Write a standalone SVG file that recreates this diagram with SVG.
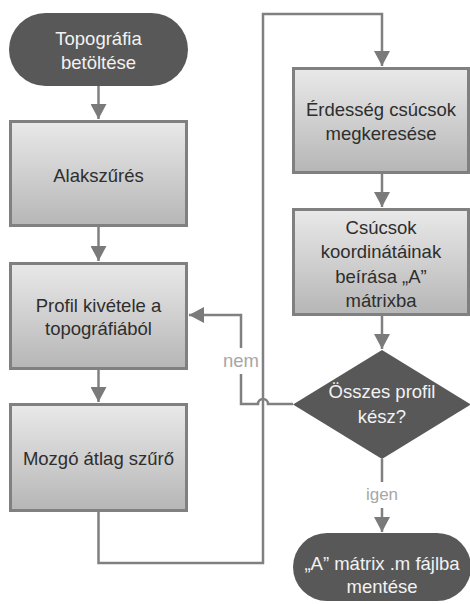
<svg xmlns="http://www.w3.org/2000/svg" width="470" height="604" viewBox="0 0 470 604">
<style>
text{font-family:"Liberation Sans",Arial,sans-serif;font-size:18.5px;text-anchor:middle}
.dk{fill:#585858}
.lt{fill:#f2f2f2}
.tb{fill:#2e2e2e}
.box{fill:url(#g);stroke:#808080;stroke-width:3}
.ln{fill:none;stroke:#808080;stroke-width:2.5}
.lbl{fill:#a6a6a6}
</style>
<defs>
<linearGradient id="g" x1="0" y1="0" x2="0" y2="1">
<stop offset="0" stop-color="#e9e9e9"/>
<stop offset="1" stop-color="#b6b6b6"/>
</linearGradient>
<marker id="ah" viewBox="0 0 15 16" refX="15" refY="8" markerWidth="15" markerHeight="16" markerUnits="userSpaceOnUse" orient="auto">
<path d="M0,0 L15,8 L0,16 z" fill="#7a7a7a"/>
</marker>
</defs>
<g id="connectors">
<path class="ln" d="M98.5,86 V119" marker-end="url(#ah)"/>
<path class="ln" d="M98.5,227 V261" marker-end="url(#ah)"/>
<path class="ln" d="M98.5,370 V402" marker-end="url(#ah)"/>
<path class="ln" d="M98.5,512 V563 H263 V14 H382 V66" marker-end="url(#ah)"/>
<path class="ln" d="M382,174 V207" marker-end="url(#ah)"/>
<path class="ln" d="M382,316 V349" marker-end="url(#ah)"/>
<path class="ln" d="M293,404 H268 A5,5 0 0 0 258,404 H241 V374 M241,348 V315 H189" marker-end="url(#ah)"/>
<path class="ln" d="M382,459 V482 M382,508 V532" marker-end="url(#ah)"/>
<text class="lbl" x="241" y="367">nem</text>
<text class="lbl" x="382" y="500" style="font-size:17px">igen</text>
</g>
<g id="start">
<rect class="dk" x="9" y="13" width="179" height="73" rx="36.5"/>
<text class="lt" x="98.5" y="45">Topográfia</text>
<text class="lt" x="98.5" y="69">betöltése</text>
</g>
<g id="alakszures">
<rect class="box" x="10.5" y="121.5" width="176" height="104"/>
<text class="tb" x="98.5" y="182">Alakszűrés</text>
</g>
<g id="profil">
<rect class="box" x="10.5" y="263.5" width="176" height="105"/>
<text class="tb" x="98.5" y="312">Profil kivétele a</text>
<text class="tb" x="98.5" y="335">topográfiából</text>
</g>
<g id="mozgo">
<rect class="box" x="10.5" y="404.5" width="176" height="106"/>
<text class="tb" x="98.5" y="465">Mozgó átlag szűrő</text>
</g>
<g id="erdesseg">
<rect class="box" x="293.5" y="68.5" width="175" height="104"/>
<text class="tb" x="381" y="116">Érdesség csúcsok</text>
<text class="tb" x="381" y="140">megkeresése</text>
</g>
<g id="csucsok">
<rect class="box" x="293.5" y="209.5" width="175" height="105"/>
<text class="tb" x="381" y="234">Csúcsok</text>
<text class="tb" x="381" y="258">koordinátáinak</text>
<text class="tb" x="381" y="283">beírása „A”</text>
<text class="tb" x="381" y="307">mátrixba</text>
</g>
<g id="dontes">
<path class="dk" d="M382,350 L471,404.5 L382,459 L293,404.5 z"/>
<text class="lt" x="382" y="398">Összes profil</text>
<text class="lt" x="382" y="423">kész?</text>
</g>
<g id="mentes">
<rect class="dk" x="293" y="533" width="178" height="68" rx="34"/>
<text class="lt" x="382" y="570">„A” mátrix .m fájlba</text>
<text class="lt" x="382" y="593">mentése</text>
</g>
</svg>
